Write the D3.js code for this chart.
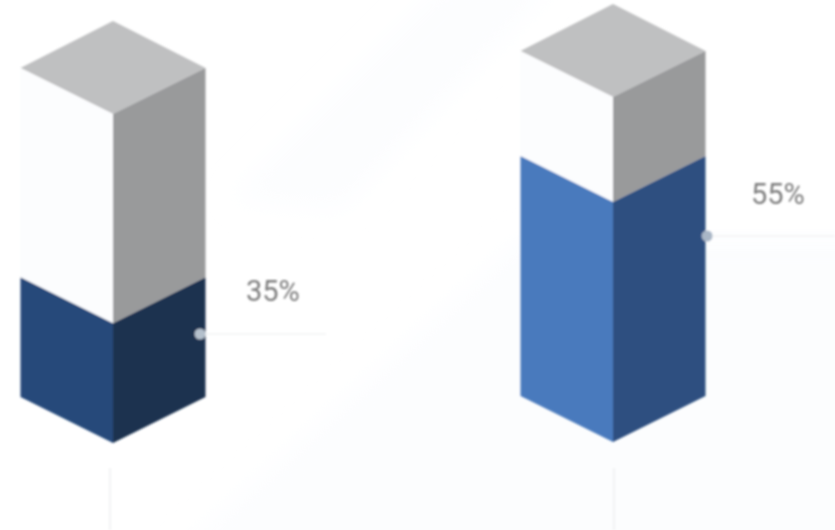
<!DOCTYPE html>
<html>
<head>
<meta charset="utf-8">
<script src="https://cdn.jsdelivr.net/npm/d3@7"></script>
<style>
html, body { margin: 0; padding: 0; background: #fff; }
svg { display: block; }
</style>
</head>
<body>
<svg id="chart" width="835" height="530"></svg>
<script>
// valeurs
const categories = ["A", "B"];
const labels = [35, 55];
const fillLevels = [36.4, 69.6]; // hauteur remplie, en % de la colonne

const frontColors = ["#27497a", "#4a7abd"];
const sideColors = ["#1e3350", "#2f4f80"];

let svg = d3.select("#chart");
let width = 835, height = 530;

let defs = svg.append("defs");
defs.append("filter").attr("id", "flou")
	.attr("x", "-10%").attr("y", "-10%").attr("width", "120%").attr("height", "120%")
	.append("feGaussianBlur").attr("stdDeviation", 0.9);
defs.append("filter").attr("id", "flou-fond")
	.attr("x", "-20%").attr("y", "-20%").attr("width", "140%").attr("height", "140%")
	.append("feGaussianBlur").attr("stdDeviation", 14);

// géométrie des colonnes
let x = d3.scaleBand().domain(categories).range([-137, 863]);
let halfW = 92.5;
let depth = 46;
let baseY = {A: 397, B: 396};
let topY = {A: 68, B: 51};
let line = d3.line();

// fond : bandes diagonales très pâles
let bg = svg.append("g").attr("filter", "url(#flou-fond)");
let bandes = [
	[[170, 560], [520, 240], [900, 240], [900, 560]],
	[[230, 200], [450, -20], [560, -20], [340, 210]],
];
bg.selectAll("path").data(bandes).join("path")
	.attr("d", d => line(d) + "Z")
	.attr("fill", "#fcfdfe");

let g = svg.append("g").attr("filter", "url(#flou)");

categories.forEach((c, i) => {
	let cx = x(c) + x.bandwidth() / 2;
	let y = d3.scaleLinear().domain([0, 100]).range([baseY[c], topY[c]]);
	let yf = y(fillLevels[i]), yt = y(100), y0 = y(0);
	let l = cx - halfW, r = cx + halfW;

	let faces = [
		// haut
		{p: [[l, yt], [cx, yt - depth - 1], [r, yt], [cx, yt + depth]], f: "#bfc0c1"},
		// partie vide
		{p: [[l, yt], [cx, yt + depth], [cx, yf + depth], [l, yf]], f: "#fcfdfe"},
		{p: [[cx, yt + depth], [r, yt], [r, yf], [cx, yf + depth]], f: "#999a9b"},
		// partie remplie
		{p: [[l, yf], [cx, yf + depth], [cx, y0 + depth], [l, y0]], f: frontColors[i]},
		{p: [[cx, yf + depth], [r, yf], [r, y0], [cx, y0 + depth]], f: sideColors[i]},
	];
	g.selectAll(null).data(faces).join("path")
		.attr("d", d => line(d.p) + "Z")
		.attr("fill", d => d.f);

	// filet vertical sous la colonne
	g.append("line")
		.attr("x1", cx - 3 + i * 4).attr("x2", cx - 3 + i * 4)
		.attr("y1", 468).attr("y2", height)
		.attr("stroke", "#eeeff1").attr("stroke-width", 1.5);

	// repère et étiquette
	let my = [334, 236][i];
	let endX = [326, 835][i];
	let mx = [200, 707][i];
	g.append("line")
		.attr("x1", mx).attr("x2", endX)
		.attr("y1", my).attr("y2", my)
		.attr("stroke", "#f5f6f7").attr("stroke-width", 2);
	g.append("circle")
		.attr("cx", mx).attr("cy", my).attr("r", 5.5)
		.attr("fill", ["#b4c0cc", "#a9b6c6"][i]);
	g.append("text")
		.attr("x", [246, 751][i])
		.attr("y", [291, 194][i])
		.attr("dominant-baseline", "central")
		.attr("font-family", "Roboto, sans-serif")
		.attr("font-size", 29)
		.attr("fill", "#7e7e7e")
		.text(labels[i] + "%");
});
</script>
</body>
</html>
